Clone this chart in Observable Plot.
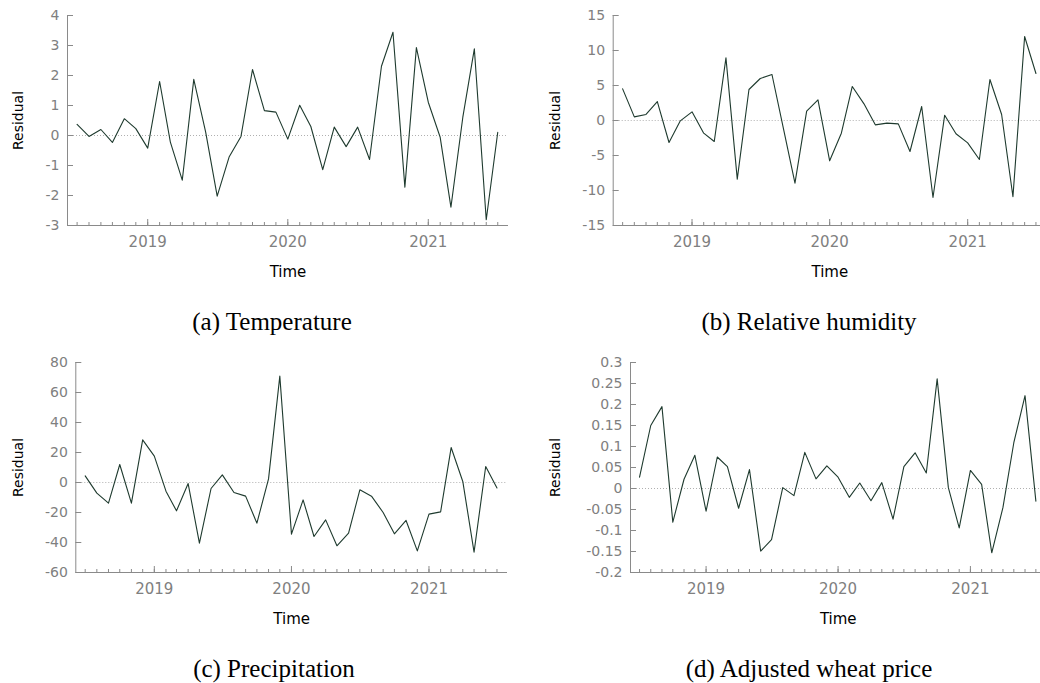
<!DOCTYPE html>
<html>
<head>
<meta charset="utf-8">
<script src="https://cdn.jsdelivr.net/npm/d3@7"></script>
<script src="https://cdn.jsdelivr.net/npm/@observablehq/plot@0.6"></script>
<style>
  html, body { margin: 0; padding: 0; background: #fff; }
  body { width: 1040px; height: 683px; position: relative; overflow: hidden; }
  .panel { position: absolute; }
  .panel svg { max-width: none !important; }
  .caption { position: absolute; font-family: "Liberation Serif", "Times New Roman", serif; font-size: 25px; color: #000; white-space: nowrap; transform: translate(-50%, -50%); }
</style>
</head>
<body>
<div id="pa" class="panel" style="left:0px; top:0px; width:520px;"></div>
<div id="pb" class="panel" style="left:520px; top:0px; width:530px;"></div>
<div id="pc" class="panel" style="left:0px; top:347px; width:520px;"></div>
<div id="pd" class="panel" style="left:520px; top:347px; width:530px;"></div>
<div class="caption" style="left:272px; top:322px;">(a) Temperature</div>
<div class="caption" style="left:809px; top:322px;">(b) Relative humidity</div>
<div class="caption" style="left:274px; top:669px;">(c) Precipitation</div>
<div class="caption" style="left:809px; top:669px;">(d) Adjusted wheat price</div>
<script>
// ---- data ----
const months = [
  "2018-07","2018-08","2018-09","2018-10","2018-11","2018-12",
  "2019-01","2019-02","2019-03","2019-04","2019-05","2019-06",
  "2019-07","2019-08","2019-09","2019-10","2019-11","2019-12",
  "2020-01","2020-02","2020-03","2020-04","2020-05","2020-06",
  "2020-07","2020-08","2020-09","2020-10","2020-11","2020-12",
  "2021-01","2021-02","2021-03","2021-04","2021-05","2021-06",
  "2021-07"
];
const temperature = [
  0.37, -0.03, 0.2, -0.23, 0.56, 0.23, -0.42, 1.8, -0.22, -1.49, 1.87, 0.11,
  -2.02, -0.72, -0.03, 2.2, 0.83, 0.78, -0.12, 1.01, 0.3, -1.14, 0.28, -0.37,
  0.28, -0.8, 2.31, 3.44, -1.72, 2.93, 1.11, -0.06, -2.39, 0.61, 2.89, -2.81,
  0.11
];
const humidity = [
  4.52, 0.52, 0.86, 2.71, -3.14, -0.05, 1.24, -1.81, -3.0, 8.95, -8.38, 4.43,
  6.0, 6.57, -1.3, -8.95, 1.33, 2.95, -5.76, -1.81, 4.86, 2.38, -0.62, -0.38,
  -0.48, -4.43, 2.0, -11.0, 0.76, -1.9, -3.19, -5.57, 5.86, 0.86, -10.9, 12.0,
  6.71
];
const precipitation = [
  4.4, -7.1, -13.8, 12.0, -13.8, 28.4, 17.6, -5.8, -18.9, -0.7, -40.4, -4.0,
  5.1, -6.7, -9.1, -27.1, 2.4, 70.9, -34.4, -11.6, -36.0, -24.9, -42.2, -33.8,
  -4.9, -9.1, -20.0, -34.2, -25.3, -45.6, -21.1, -19.6, 23.3, 0.7, -46.4, 10.7,
  -3.6
];
const wheatPrice = [
  0.027, 0.15, 0.195, -0.080, 0.022, 0.079, -0.054, 0.075, 0.052, -0.047, 0.045, -0.149,
  -0.122, 0.002, -0.017, 0.086, 0.023, 0.054, 0.027, -0.021, 0.013, -0.029, 0.014, -0.073,
  0.052, 0.085, 0.037, 0.261, 0.002, -0.094, 0.043, 0.010, -0.153, -0.045, 0.109, 0.221,
  -0.030
];
const yearTicks = ["2019-01-01", "2020-01-01", "2021-01-01"];
const ticksA = [-3, -2, -1, 0, 1, 2, 3, 4];
const ticksB = [-15, -10, -5, 0, 5, 10, 15];
const ticksC = [-60, -40, -20, 0, 20, 40, 60, 80];
const ticksD = [-0.2, -0.15, -0.1, -0.05, 0, 0.05, 0.1, 0.15, 0.2, 0.25, 0.3];

// ---- drawing ----
const parse = s => new Date(s.length === 7 ? s + "-01T00:00:00Z" : s + "T00:00:00Z");
const xDomain = [parse("2018-06-06"), parse("2021-07-29")];
const monthDates = months.map(parse);
const yearDates = yearTicks.map(parse);
const fmtNum = d => String(+d.toFixed(2)).replace("\u2212", "-");
const AXIS = "#8a8a8a";

function panel(el, values, yDomain, yTicks, width, marginLeft, marginRight, labelX) {
  const data = monthDates.map((d, i) => ({date: d, value: values[i]}));
  const chart = Plot.plot({
    width, height: 285,
    marginTop: 15, marginBottom: 60, marginLeft, marginRight,
    x: {type: "utc", domain: xDomain},
    y: {domain: yDomain},
    style: {fontFamily: "'DejaVu Sans', Verdana, sans-serif", background: "transparent", overflow: "visible"},
    marks: [
      Plot.ruleY([0], {stroke: "#b0b0b0", strokeDasharray: "1,2", strokeWidth: 1}),
      Plot.ruleX([xDomain[0]], {stroke: AXIS}),
      Plot.ruleY([yDomain[0]], {stroke: AXIS}),
      Plot.axisY({ticks: yTicks, tickSize: 6, dx: 6, tickFormat: () => "", label: null, stroke: AXIS}),
      Plot.axisY({ticks: yTicks, tickSize: 0, tickPadding: 8, tickFormat: fmtNum, label: null, fill: "#808080", fontSize: 14}),
      Plot.axisX({ticks: monthDates, tickSize: 3, dy: -3, tickFormat: () => "", label: null, stroke: AXIS}),
      Plot.axisX({ticks: yearDates, tickSize: 6, dy: -6, tickFormat: () => "", label: null, stroke: AXIS}),
      Plot.axisX({ticks: yearDates, tickSize: 0, tickPadding: 11, tickFormat: d3.utcFormat("%Y"), label: null, fill: "#808080", fontSize: 15}),
      Plot.text(["Residual"], {frameAnchor: "left", dx: labelX - marginLeft, rotate: -90, textAnchor: "middle", lineAnchor: "middle", fontSize: 14, fill: "#000"}),
      Plot.text(["Time"], {frameAnchor: "bottom", dy: 47, textAnchor: "middle", lineAnchor: "middle", fontSize: 15, fill: "#000"}),
      Plot.line(data, {x: "date", y: "value", stroke: "#1e3a2e", strokeWidth: 1.1})
    ]
  });
  document.getElementById(el).appendChild(chart);
}

panel("pa", temperature, [-3, 4], ticksA, 520, 67, 12, 18);
panel("pb", humidity, [-15, 15], ticksB, 530, 92.7, 4, 35.5);
panel("pc", precipitation, [-60, 80], ticksC, 520, 75.3, 13, 18);
panel("pd", wheatPrice, [-0.2, 0.3], ticksD, 530, 110, 4.5, 35.5);
</script>
</body>
</html>
